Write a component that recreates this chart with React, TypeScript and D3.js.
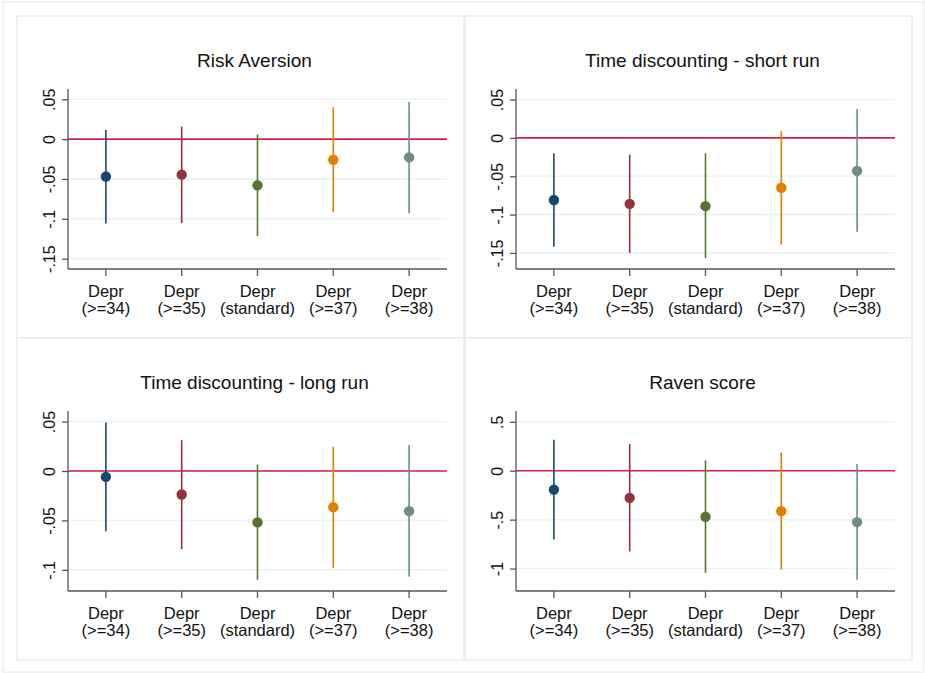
import React, { useRef, useEffect } from 'react';
import * as d3 from 'd3';

// categories shown on every panel (two-line labels)
const categories = ['34', '35', 'std', '37', '38'];
const labelTop = ['Depr', 'Depr', 'Depr', 'Depr', 'Depr'];
const labelBottom = ['(>=34)', '(>=35)', '(standard)', '(>=37)', '(>=38)'];
const colors = ['#1a476f', '#90353b', '#55752f', '#e37e00', '#6e8e84'];

// Risk Aversion
const riskEst = [-0.047, -0.0446, -0.058, -0.0259, -0.023];
const riskLo = [-0.106, -0.1055, -0.1217, -0.0917, -0.093];
const riskHi = [0.0116, 0.0158, 0.0058, 0.04, 0.0466];
const riskTicks = [0.05, 0, -0.05, -0.1, -0.15];
const riskTickLabels = ['.05', '0', '-.05', '-.1', '-.15'];

// Time discounting - short run
const shortEst = [-0.081, -0.086, -0.089, -0.065, -0.043];
const shortLo = [-0.142, -0.15, -0.157, -0.139, -0.1224];
const shortHi = [-0.02, -0.022, -0.02, 0.009, 0.0378];
const shortTicks = [0.05, 0, -0.05, -0.1, -0.15];
const shortTickLabels = ['.05', '0', '-.05', '-.1', '-.15'];

// Time discounting - long run
const longEst = [-0.006, -0.0238, -0.052, -0.0366, -0.0406];
const longLo = [-0.061, -0.0789, -0.11, -0.098, -0.107];
const longHi = [0.049, 0.0312, 0.0067, 0.0245, 0.0262];
const longTicks = [0.05, 0, -0.05, -0.1];
const longTickLabels = ['.05', '0', '-.05', '-.1'];

// Raven score
const ravenEst = [-0.193, -0.278, -0.471, -0.413, -0.525];
const ravenLo = [-0.704, -0.826, -1.043, -1.012, -1.114];
const ravenHi = [0.315, 0.274, 0.105, 0.186, 0.068];
const ravenTicks = [0.5, 0, -0.5, -1];
const ravenTickLabels = ['.5', '0', '-.5', '-1'];

const panels = [
  { title: 'Risk Aversion', est: riskEst, lo: riskLo, hi: riskHi, ticks: riskTicks, tickLabels: riskTickLabels, domain: [-0.163, 0.0629], box: [17, 16], plot: [68, 89] },
  { title: 'Time discounting - short run', est: shortEst, lo: shortLo, hi: shortHi, ticks: shortTicks, tickLabels: shortTickLabels, domain: [-0.171, 0.0638], box: [465, 16], plot: [516, 89] },
  { title: 'Time discounting - long run', est: longEst, lo: longLo, hi: longHi, ticks: longTicks, tickLabels: longTickLabels, domain: [-0.1214, 0.0607], box: [17, 338], plot: [68, 411] },
  { title: 'Raven score', est: ravenEst, lo: ravenLo, hi: ravenHi, ticks: ravenTicks, tickLabels: ravenTickLabels, domain: [-1.229, 0.61], box: [465, 338], plot: [516, 411] },
];

const W = 925;
const H = 673;
const plotW = 379;
const plotH = 180;
const font = 'Arial, "Liberation Sans", sans-serif';

export default function App() {
  const svgRef = useRef<SVGSVGElement>(null);

  useEffect(() => {
    const svg = d3.select(svgRef.current);
    svg.selectAll('*').remove();

    svg.append('rect')
      .attr('x', 3).attr('y', 2).attr('width', W - 4).attr('height', H - 3)
      .attr('fill', '#fff').attr('stroke', '#eaf0f0').attr('stroke-width', 1.5);

    panels.forEach(p => {
      svg.append('rect')
        .attr('x', p.box[0]).attr('y', p.box[1]).attr('width', 447).attr('height', 322)
        .attr('fill', '#fff').attr('stroke', '#e6eeee').attr('stroke-width', 1.5);

      const g = svg.append('g').attr('transform', `translate(${p.plot[0]},${p.plot[1]})`);

      const x = d3.scaleBand().domain(categories).range([0, plotW]);
      const y = d3.scaleLinear().domain(p.domain).range([plotH, 0]);
      const cx = (i: number) => (x(categories[i]) as number) + x.bandwidth() / 2;

      // gridlines
      g.selectAll('line.grid')
        .data(p.ticks)
        .join('line')
        .attr('class', 'grid')
        .attr('x1', 0).attr('x2', plotW)
        .attr('y1', d => y(d)).attr('y2', d => y(d))
        .attr('stroke', '#eaf2f3').attr('stroke-width', 1.5);

      // zero line
      g.append('line')
        .attr('x1', 0).attr('x2', plotW)
        .attr('y1', y(0)).attr('y2', y(0))
        .attr('stroke', '#d4204c').attr('stroke-width', 1.6);

      // y axis
      const yAxis = g.append('g')
        .call(d3.axisLeft(y).tickValues(p.ticks).tickSize(6).tickFormat((d, i) => p.tickLabels[i]));
      yAxis.select('.domain').attr('d', `M0,0V${plotH}`).attr('stroke', '#555').attr('stroke-width', 1.3);
      yAxis.selectAll('.tick line').attr('stroke', '#555').attr('stroke-width', 1.3);
      yAxis.selectAll('.tick text')
        .attr('x', null).attr('dy', null)
        .attr('transform', 'translate(-13,0) rotate(-90)')
        .attr('text-anchor', 'middle')
        .attr('font-family', font).attr('font-size', 16).attr('fill', '#111');

      // x axis
      const xAxis = g.append('g')
        .attr('transform', `translate(0,${plotH})`)
        .call(d3.axisBottom(x).tickSize(7).tickFormat(() => ''));
      xAxis.select('.domain').attr('d', `M0,0H${plotW}`).attr('stroke', '#555').attr('stroke-width', 1.3);
      xAxis.selectAll('.tick line').attr('stroke', '#555').attr('stroke-width', 1.3);
      xAxis.selectAll('.tick text').remove();
      xAxis.selectAll('.tick')
        .append('text')
        .attr('y', 28).attr('text-anchor', 'middle')
        .attr('font-family', font).attr('font-size', 16.5).attr('fill', '#111')
        .text((d, i) => labelTop[i]);
      xAxis.selectAll('.tick')
        .append('text')
        .attr('y', 45).attr('text-anchor', 'middle')
        .attr('font-family', font).attr('font-size', 16.5).attr('fill', '#111')
        .text((d, i) => labelBottom[i]);

      // confidence intervals
      g.selectAll('line.ci')
        .data(p.est)
        .join('line')
        .attr('class', 'ci')
        .attr('x1', (d, i) => cx(i)).attr('x2', (d, i) => cx(i))
        .attr('y1', (d, i) => y(p.lo[i])).attr('y2', (d, i) => y(p.hi[i]))
        .attr('stroke', (d, i) => colors[i]).attr('stroke-width', 1.6);

      // point estimates
      g.selectAll('circle.pt')
        .data(p.est)
        .join('circle')
        .attr('class', 'pt')
        .attr('cx', (d, i) => cx(i)).attr('cy', d => y(d))
        .attr('r', 5.2)
        .attr('fill', (d, i) => colors[i]);

      // title
      g.append('text')
        .attr('x', plotW / 2 - 3).attr('y', -22)
        .attr('text-anchor', 'middle')
        .attr('font-family', font).attr('font-size', 19).attr('fill', '#111')
        .text(p.title);
    });
  }, []);

  return (
    <svg
      ref={svgRef}
      width={W}
      height={H}
      viewBox={`0 0 ${W} ${H}`}
      style={{ position: 'absolute', left: 0, top: 0, background: '#fff' }}
    />
  );
}
